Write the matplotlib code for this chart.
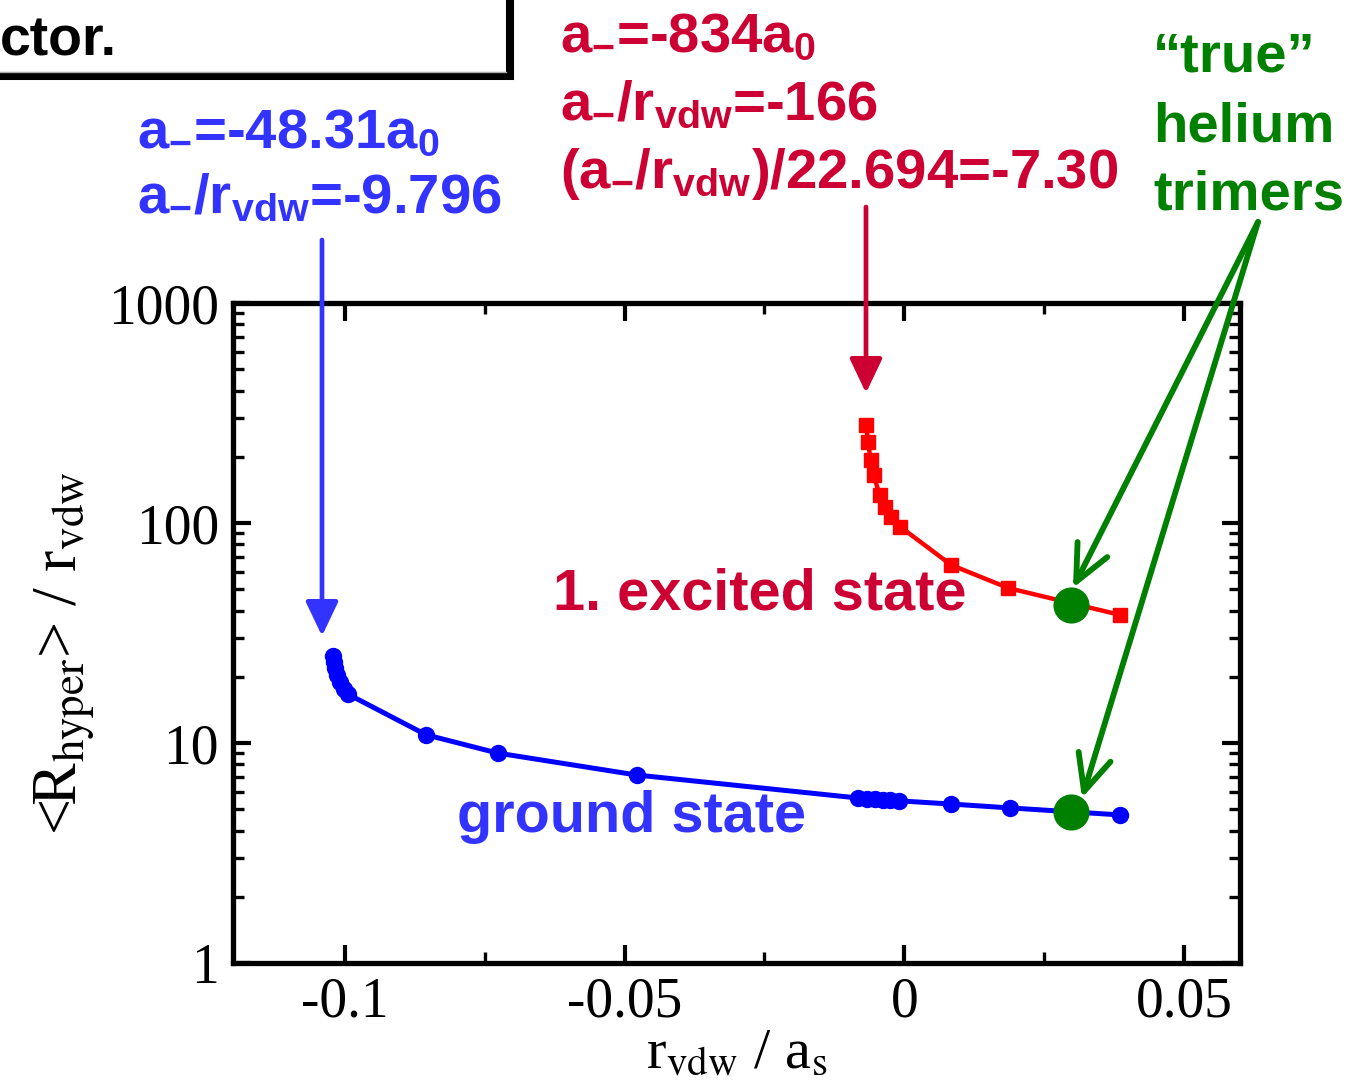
import matplotlib
matplotlib.use("Agg")
import matplotlib.pyplot as plt
from matplotlib.patches import FancyArrowPatch, Rectangle
from matplotlib.lines import Line2D
from matplotlib.ticker import FixedLocator, FixedFormatter, LogLocator, NullFormatter

# hyperradius of the Efimov trimer states vs inverse scattering length
ground_x = [-0.1021, -0.1019, -0.1017, -0.1014, -0.1008, -0.1001, -0.0995,
            -0.0855, -0.0727, -0.0478,
            -0.0082, -0.0067, -0.0053, -0.0039, -0.0025, -0.0010,
            0.0083, 0.0188, 0.0386]
ground_y = [24.9, 23.4, 21.9, 20.4, 18.9, 17.6, 16.7,
            10.9, 9.0, 7.15,
            5.62, 5.58, 5.55, 5.52, 5.49, 5.46,
            5.28, 5.07, 4.71]

excited_x = [-0.0068, -0.0065, -0.0060, -0.0055, -0.0044, -0.0034, -0.0023, -0.0007,
             0.0084, 0.0186, 0.0386]
excited_y = [279, 233, 193, 165, 134, 118, 106, 96,
             64.4, 50.6, 38.2]

# physical helium trimers
helium_x = [0.0298, 0.0298]
helium_y = [42.4, 4.86]

xticks = [-0.1, -0.05, 0, 0.05]
xticklabels = ['-0.1', '-0.05', '0', '0.05']
yticks = [1, 10, 100, 1000]
yticklabels = ['1', '10', '100', '1000']

BLUE_TXT = '#3333ff'
RED_TXT = '#cc0033'
GREEN = '#008000'

plt.rcParams['mathtext.fontset'] = 'custom'
plt.rcParams['mathtext.rm'] = 'Liberation Sans:bold'
plt.rcParams['mathtext.it'] = 'Liberation Sans:bold'
plt.rcParams['mathtext.bf'] = 'Liberation Sans:bold'
plt.rcParams['axes.unicode_minus'] = False

W, H = 1365, 1091
fig = plt.figure(figsize=(W / 100, H / 100), dpi=100)


def px(x, y):
    return (x / W, 1 - y / H)


ax = fig.add_axes([233 / W, 1 - 963 / H, (1240 - 233) / W, (963 - 303) / H])

ax.plot(ground_x, ground_y, '-o', color='#0000ff', lw=3.6, ms=11.5, zorder=3)
ax.plot(excited_x, excited_y, '-s', color='#ff0000', lw=3.2, ms=9.5, zorder=3)
ax.plot(helium_x, helium_y, 'o', color=GREEN, ms=25, ls='none', zorder=4)

ax.set_yscale('log')
ax.set_xlim(-0.12, 0.06)
ax.set_ylim(1, 1000)

ax.xaxis.set_major_locator(FixedLocator(xticks))
ax.xaxis.set_major_formatter(FixedFormatter(xticklabels))
ax.xaxis.set_minor_locator(FixedLocator([-0.075, -0.025, 0.025]))
ax.yaxis.set_major_locator(FixedLocator(yticks))
ax.yaxis.set_major_formatter(FixedFormatter(yticklabels))
ax.yaxis.set_minor_locator(LogLocator(base=10, subs=range(2, 10)))
ax.yaxis.set_minor_formatter(NullFormatter())

ax.tick_params(which='both', direction='in', top=True, right=True,
               labelsize=40, pad=10)
ax.tick_params(which='major', length=13, width=3)
ax.tick_params(which='minor', length=8, width=2.4)
for lab in ax.get_xticklabels() + ax.get_yticklabels():
    lab.set_family('Liberation Serif')
for s in ax.spines.values():
    s.set_linewidth(3.8)

ax.set_xlabel(r'r$_{\rm vdw}$ / a$_{\rm s}$', family='Liberation Serif',
              math_fontfamily='stix', fontsize=42)
ax.set_ylabel(r'<R$_{\rm hyper}$> / r$_{\rm vdw}$', family='Liberation Serif',
              math_fontfamily='stix', fontsize=46)
ax.xaxis.set_label_coords(0.5, -0.10)
ax.yaxis.set_label_coords(-0.135, 0.47)

# annotations
txt = dict(family='Liberation Sans', weight='bold', fontsize=40.5,
           transform=fig.transFigure, va='baseline', ha='left')
fig.text(*px(137, 148), r'a$_{-}$=-48.31a$_{0}$', color=BLUE_TXT, **txt)
fig.text(*px(137, 213), r'a$_{-}$/r$_{\rm vdw}$=-9.796', color=BLUE_TXT, **txt)

fig.text(*px(560, 52), r'a$_{-}$=-834a$_{0}$', color=RED_TXT, **txt)
fig.text(*px(560, 120), r'a$_{-}$/r$_{\rm vdw}$=-166', color=RED_TXT, **txt)
fig.text(*px(560, 188), r'(a$_{-}$/r$_{\rm vdw}$)/22.694=-7.30', color=RED_TXT, **txt)

fig.text(*px(1153, 72), '\u201ctrue\u201d', color=GREEN, **txt)
fig.text(*px(1153, 142), 'helium', color=GREEN, **txt)
fig.text(*px(1153, 210), 'trimers', color=GREEN, **txt)

fig.text(*px(553, 610), '1. excited state', color=RED_TXT, **dict(txt, fontsize=41.5))
fig.text(*px(457, 832), 'ground state', color=BLUE_TXT, **dict(txt, fontsize=41.5))

# arrows
def arrow(p0, p1, color, style, lw):
    a = FancyArrowPatch(px(*p0), px(*p1), transform=fig.transFigure,
                        arrowstyle=style, color=color, lw=lw,
                        shrinkA=0, shrinkB=0, mutation_scale=1,
                        capstyle='round', joinstyle='round')
    fig.add_artist(a)


arrow((322, 240), (322, 636), BLUE_TXT, '-|>,head_length=21,head_width=10', 3.4)
arrow((866, 207), (866, 393), RED_TXT, '-|>,head_length=21,head_width=10', 3.4)
arrow((1258, 222), (1073, 588), GREEN, '->,head_length=26,head_width=12', 4.2)
arrow((1258, 222), (1082, 798), GREEN, '->,head_length=26,head_width=12', 4.2)

# boxed caption fragment in the corner
fig.add_artist(Rectangle(px(-30, 76), 540 / W, 120 / H, transform=fig.transFigure,
                         fill=False, ec='black', lw=5.8, clip_on=False))
fig.add_artist(Line2D([0, 506 / W], [1 - 71.5 / H, 1 - 71.5 / H], transform=fig.transFigure,
                      color='#aaaaaa', lw=1))
fig.text(*px(0, 55), 'ctor.', color='black', **dict(txt, fontsize=40))

fig.savefig('out.png', dpi=100)
